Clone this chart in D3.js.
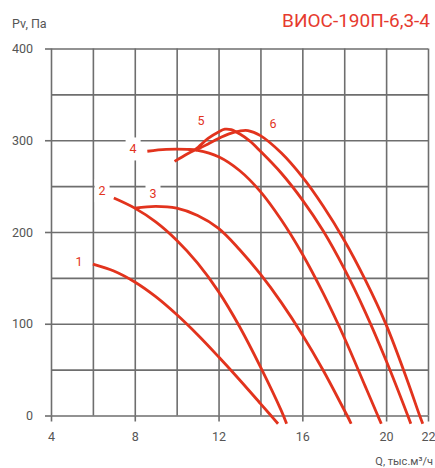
<!DOCTYPE html>
<html>
<head>
<meta charset="utf-8">
<script src="https://cdn.jsdelivr.net/npm/d3@7"></script>
<style>
  html, body { margin: 0; padding: 0; background: #fff; }
  svg { display: block; font-family: Roboto, "Noto Sans", sans-serif; }
</style>
</head>
<body>
<svg id="chart" width="435" height="468"></svg>
<script>
// ---- data ----
const xLabelTicks = [4, 8, 12, 16, 20, 22];
const xGridTicks = [4, 6, 8, 10, 12, 14, 16, 18, 20, 22];
const yLabelTicks = [0, 100, 200, 300, 400];
const yGridTicks = [0, 50, 100, 150, 200, 250, 300, 350, 400];

const curve1 = [[6,165],[7,157.5],[8,145.5],[9,129.5],[10,110],[11,88],[12,64],[13,39],[14,13],[14.5,0],[14.84,-9]];
const curve2 = [[7,237],[8,226],[9,211],[10,191],[11,166],[12,135],[13,97],[14,53],[15,5],[15.25,-9]];
const curve3 = [[8,226],[9,228],[10,226],[11,218],[12,204],[13,181],[14,154],[15,123],[16,88],[17,49],[18,6],[18.14,0],[18.33,-9]];
const curve4 = [[8.6,288],[9.5,290],[10.5,290],[11,289],[12,282],[13,267],[14,244],[15,213],[16,176],[17,133],[18,85],[19,32],[19.6,0],[19.77,-9]];
const curve5 = [[9.9,277],[10.5,285],[10.9,290],[11.5,302],[12,309],[12.3,312],[12.6,311.5],[13,307],[13.5,299],[14,288],[15,264],[16,235],[17,201],[18,160],[19,113],[20,60],[21,2],[21.18,-9]];
const curve6 = [[10.9,289],[11.5,296],[12,302],[12.5,307],[13,310],[13.4,310.5],[14,305],[15,286],[16,260],[17,228],[18,191],[19,148],[20,99],[21,39],[21.6,0],[21.75,-9]];
const curves = [curve1, curve2, curve3, curve4, curve5, curve6];
const curveNames = ["1", "2", "3", "4", "5", "6"];
const labelAnchors = [[5.34,168],[6.44,245],[8.87,242.5],[7.92,290.5],[11.16,321],[14.6,318]];

const title = "ВИОС-190П-6,3-4";
const yTitle = "Pv, Па";
const xTitle = "Q, тыс.м³/ч";

// ---- layout ----
const svg = d3.select("#chart");
const x = d3.scaleLinear().domain([4, 22]).range([51, 428]);
const y = d3.scaleLinear().domain([0, 400]).range([415.5, 48.5]);
const gridColor = "#6e6e6e";
const textColor = "#555";
const red = "#e2331d";

// horizontal grid
const hGrid = svg.append("g").attr("transform", `translate(${x(4)},0)`)
  .call(d3.axisLeft(y).tickValues(yGridTicks).tickSize(-(x(22) - x(4))).tickFormat(""));
hGrid.select(".domain").remove();
hGrid.selectAll("line").attr("stroke", gridColor).attr("stroke-width", 1.6);

// vertical grid
const vGrid = svg.append("g").attr("transform", `translate(0,${y(0)})`)
  .call(d3.axisBottom(x).tickValues(xGridTicks).tickSize(-(y(0) - y(400))).tickFormat(""));
vGrid.select(".domain").remove();
vGrid.selectAll("line").attr("stroke", gridColor).attr("stroke-width", 1.6);

// y axis ticks & labels
const yAxis = svg.append("g").attr("transform", `translate(${x(4)},0)`)
  .call(d3.axisLeft(y).tickValues(yLabelTicks).tickSize(6).tickPadding(12));
yAxis.select(".domain").remove();
yAxis.selectAll("line").attr("stroke", gridColor).attr("stroke-width", 1.6);
yAxis.selectAll("text").attr("fill", textColor).style("font-size", "12.5px")
  .style("font-family", "Roboto, sans-serif");

// x axis ticks & labels
const xAxis = svg.append("g").attr("transform", `translate(0,${y(0)})`)
  .call(d3.axisBottom(x).tickValues(xLabelTicks).tickSize(6).tickPadding(10.5));
xAxis.select(".domain").remove();
xAxis.selectAll("line").attr("stroke", gridColor).attr("stroke-width", 1.6);
xAxis.selectAll("text").attr("fill", textColor).style("font-size", "12.5px")
  .style("font-family", "Roboto, sans-serif");

// curve labels with white backgrounds
const lbl = svg.append("g");
lbl.selectAll("rect").data(labelAnchors).join("rect")
  .attr("x", d => x(d[0]) - 7.5).attr("y", d => y(d[1]) - 11.5)
  .attr("width", 15).attr("height", 23).attr("fill", "#fff");
lbl.selectAll("text").data(labelAnchors).join("text")
  .attr("x", d => x(d[0])).attr("y", d => y(d[1]))
  .attr("dy", "0.36em").attr("text-anchor", "middle")
  .attr("fill", red).style("font-size", "12.5px")
  .text((d, i) => curveNames[i]);

// curves
const line = d3.line().x(d => x(d[0])).y(d => y(d[1])).curve(d3.curveCatmullRom.alpha(0.5));
svg.append("g").selectAll("path").data(curves).join("path")
  .attr("d", line).attr("fill", "none").attr("stroke", red)
  .attr("stroke-width", 2.8).attr("stroke-linecap", "butt");

// titles
svg.append("text").attr("x", 430).attr("y", 27).attr("text-anchor", "end")
  .attr("fill", "#e63a2e").style("font-size", "19px").text(title);
svg.append("text").attr("x", 12).attr("y", 28)
  .attr("fill", textColor).style("font-size", "12.5px").text(yTitle);
svg.append("text").attr("x", 433).attr("y", 465).attr("text-anchor", "end")
  .attr("fill", textColor).style("font-size", "11px").text(xTitle);
</script>
</body>
</html>
